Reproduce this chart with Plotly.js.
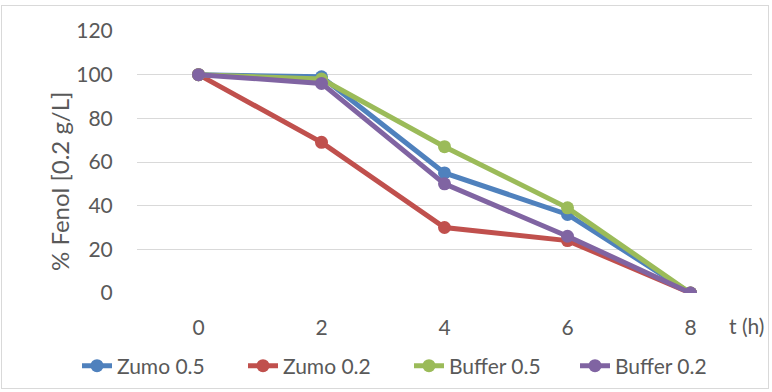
<!DOCTYPE html>
<html>
<head>
<meta charset="utf-8">
<script src="https://cdn.plot.ly/plotly-3.0.1.min.js"></script>
<style>
  html, body { margin: 0; padding: 0; background: #fff; }
  #wrap { position: relative; width: 772px; height: 392px; }
  #chart { width: 772px; height: 392px; }
  #frame { position: absolute; left: 1px; top: 5px; width: 768px; height: 384px;
           border: 1px solid #D9D9D9; pointer-events: none; box-sizing: border-box; }
</style>
</head>
<body>
<div id="wrap">
  <div id="chart"></div>
  <div id="frame"></div>
</div>
<script>
// Time points (hours)
const hours = ['0', '2', '4', '6', '8'];

// Remaining phenol (%) per condition
const zumo05   = [100, 99, 55, 36, 0];
const zumo02   = [100, 69, 30, 24, 0];
const buffer05 = [100, 98, 67, 39, 0];
const buffer02 = [100, 96, 50, 26, 0];

const seriesNames = ['Zumo 0.5', 'Zumo 0.2', 'Buffer 0.5', 'Buffer 0.2'];
const seriesValues = [zumo05, zumo02, buffer05, buffer02];
const seriesColors = ['#4F81BD', '#C0504D', '#9BBB59', '#8064A2'];

const FONT = 'Lato, "Open Sans", sans-serif';
const TEXT = '#595959';
const FS = 21;

const traces = seriesNames.map((name, i) => ({
  type: 'scatter',
  mode: 'lines+markers',
  name: name,
  x: hours,
  y: seriesValues[i],
  line: { color: seriesColors[i], width: 5 },
  marker: { color: seriesColors[i], size: 13 }
}));

const layout = {
  width: 772,
  height: 392,
  margin: { l: 137, r: 20, t: 31, b: 99, autoexpand: false },
  paper_bgcolor: '#fff',
  plot_bgcolor: '#fff',
  font: { family: FONT, size: FS, color: TEXT },
  showlegend: true,
  legend: {
    orientation: 'h',
    x: (77 - 137) / 615,
    xanchor: 'left',
    y: (293 - 366) / 262,
    yanchor: 'middle',
    bgcolor: 'rgba(0,0,0,0)',
    font: { family: FONT, size: FS, color: TEXT },
    itemwidth: 30,
    entrywidth: 121,
    entrywidthmode: 'pixels',
    tracegroupgap: 0
  },
  xaxis: {
    type: 'category',
    range: [-0.5, 4.5],
    showgrid: false,
    zeroline: false,
    showline: false,
    ticks: 'outside',
    ticklen: 16,
    tickcolor: 'rgba(0,0,0,0)',
    tickfont: { family: FONT, size: FS, color: TEXT },
    fixedrange: true
  },
  yaxis: {
    range: [0, 120],
    dtick: 20,
    tick0: 0,
    showgrid: true,
    gridcolor: '#D9D9D9',
    gridwidth: 1,
    zeroline: false,
    showline: false,
    ticks: 'outside',
    ticklen: 19,
    tickcolor: 'rgba(0,0,0,0)',
    tickfont: { family: FONT, size: FS, color: TEXT },
    automargin: false,
    fixedrange: true
  },
  annotations: [
    {
      // value axis title, rotated
      text: '% Fenol [0.2 g/L]',
      textangle: -90,
      xref: 'paper', yref: 'paper',
      x: (59 - 137) / 615, xanchor: 'center',
      y: (293 - 182) / 262, yanchor: 'middle',
      showarrow: false,
      font: { family: FONT, size: 24, color: TEXT }
    },
    {
      // category axis title, beside the last tick label
      text: 't (h)',
      xref: 'paper', yref: 'paper',
      x: (727 - 137) / 615, xanchor: 'left',
      y: (293 - 325) / 262, yanchor: 'middle',
      showarrow: false,
      font: { family: FONT, size: FS, color: TEXT }
    }
  ]
};

Plotly.newPlot('chart', traces, layout, { displayModeBar: false, staticPlot: true });
</script>
</body>
</html>
